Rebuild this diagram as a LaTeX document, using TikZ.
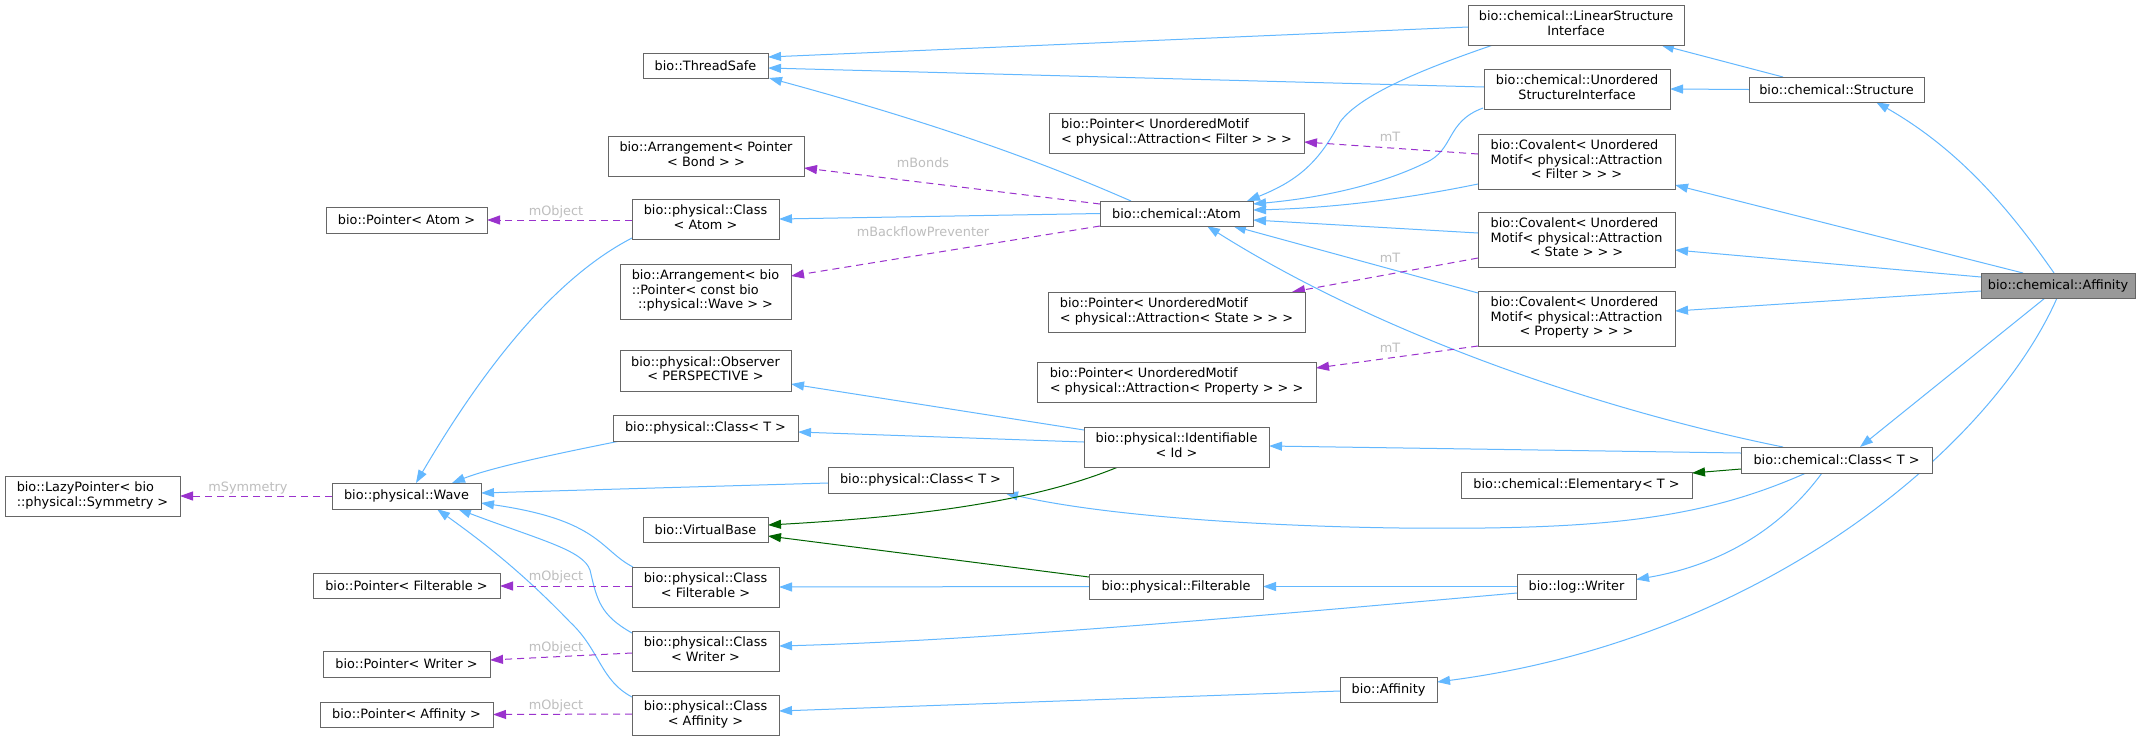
\documentclass[tikz,border=0pt]{standalone}
\usepackage{fontspec}
\setmainfont{DejaVu Sans}
\usetikzlibrary{arrows.meta,calc}
\definecolor{boxc}{HTML}{666666}
\definecolor{steel}{HTML}{63B8FF}
\definecolor{dgreen}{HTML}{006400}
\definecolor{orchid}{HTML}{9A32CD}
\definecolor{lblc}{HTML}{BEBEBE}
\definecolor{greysixty}{HTML}{999999}
\newcommand{\nodefont}{\fontsize{12.85pt}{14.5pt}\selectfont}
\newcommand{\LL}[2]{\begin{tabular}{@{}l@{}}#1\\\multicolumn{1}{@{}c@{}}{#2}\end{tabular}}
\newcommand{\LLL}[3]{\begin{tabular}{@{}l@{}}#1\\#2\\\multicolumn{1}{@{}c@{}}{#3}\end{tabular}}
\pgfdeclarelayer{bg}
\pgfsetlayers{bg,main}
\tikzset{
  box/.style={draw=boxc, fill=white, line width=1pt, inner sep=0pt, outer sep=0pt, font=\nodefont, text=black},
  dim/.style 2 args={minimum width=#1pt, minimum height=#2pt},
  tip/.style={-{Triangle[length=13pt,width=9pt]}},
  inh/.style={draw=steel, line width=1pt, tip},
  gre/.style={draw=dgreen, line width=1pt, tip},
  usage/.style={draw=orchid, line width=1pt, dash pattern=on 7pt off 5pt, tip},
  lbl/.style={font=\nodefont, text=lblc, inner sep=0pt}
}
\begin{document}
\begin{tikzpicture}[x=1pt,y=-1pt]
\useasboundingbox (0,0) rectangle (2151,740);
% nodes
\node[box,dim={125}{25}] (threadsafe) at (705.5,65.5) {bio::ThreadSafe};
\node[box,dim={216}{40}] (lsi) at (1576,25) {\LL{bio::chemical::LinearStructure}{Interface}};
\node[box,dim={186}{40}] (usi) at (1577,89) {\LL{bio::chemical::Unordered}{StructureInterface}};
\node[box,dim={175}{25}] (structure) at (1836.5,89.5) {bio::chemical::Structure};
\node[box,dim={197}{55}] (covF) at (1576.5,161.5) {\LLL{bio::Covalent< Unordered}{Motif< physical::Attraction}{< Filter > > >}};
\node[box,dim={197}{55}] (covS) at (1576.5,239.5) {\LLL{bio::Covalent< Unordered}{Motif< physical::Attraction}{< State > > >}};
\node[box,dim={197}{55}] (covP) at (1576.5,318.5) {\LLL{bio::Covalent< Unordered}{Motif< physical::Attraction}{< Property > > >}};
\node[box,fill=greysixty,dim={154}{25}] (affc) at (2058,285.5) {bio::chemical::Affinity};
\node[box,dim={255}{40}] (ptrUMF) at (1176.5,133) {\LL{bio::Pointer< UnorderedMotif}{< physical::Attraction< Filter > > >}};
\node[box,dim={153}{25}] (atom) at (1176.5,213.5) {bio::chemical::Atom};
\node[box,dim={257}{40}] (ptrUMS) at (1176.5,312) {\LL{bio::Pointer< UnorderedMotif}{< physical::Attraction< State > > >}};
\node[box,dim={279}{40}] (ptrUMP) at (1176.5,382) {\LL{bio::Pointer< UnorderedMotif}{< physical::Attraction< Property > > >}};
\node[box,dim={196}{40}] (arrBond) at (706,156) {\LL{bio::Arrangement< Pointer}{< Bond > >}};
\node[box,dim={147}{40}] (classAtom) at (705.5,219) {\LL{bio::physical::Class}{< Atom >}};
\node[box,dim={171}{55}] (arrWave) at (705.5,291.5) {\LLL{bio::Arrangement< bio}{::Pointer< const bio}{::physical::Wave > >}};
\node[box,dim={171}{41}] (observer) at (705.5,370.5) {\LL{bio::physical::Observer}{< PERSPECTIVE >}};
\node[box,dim={185}{26}] (classTup) at (705.5,428) {bio::physical::Class< T >};
\node[box,dim={125}{25}] (virtualbase) at (705.5,529.5) {bio::VirtualBase};
\node[box,dim={147}{40}] (classFilt) at (705.5,587) {\LL{bio::physical::Class}{< Filterable >}};
\node[box,dim={147}{40}] (classWriter) at (705.5,651) {\LL{bio::physical::Class}{< Writer >}};
\node[box,dim={147}{40}] (classAff) at (705.5,715) {\LL{bio::physical::Class}{< Affinity >}};
\node[box,dim={161}{26}] (ptrAtom) at (406.5,220) {bio::Pointer< Atom >};
\node[box,dim={149}{26}] (wave) at (406.5,496) {bio::physical::Wave};
\node[box,dim={187}{25}] (ptrFilt) at (406.5,585.5) {bio::Pointer< Filterable >};
\node[box,dim={167}{26}] (ptrWriter) at (406.5,664) {bio::Pointer< Writer >};
\node[box,dim={173}{25}] (ptrAff) at (406.5,714.5) {bio::Pointer< Affinity >};
\node[box,dim={175}{40}] (lazy) at (92.5,496) {\LL{bio::LazyPointer< bio}{::physical::Symmetry >}};
\node[box,dim={185}{40}] (ident) at (1176.5,447) {\LL{bio::physical::Identifiable}{< Id >}};
\node[box,dim={185}{26}] (classTlow) at (920.5,480) {bio::physical::Class< T >};
\node[box,dim={174}{25}] (filterable) at (1176,586.5) {bio::physical::Filterable};
\node[box,dim={97}{25}] (affb) at (1388.5,689.5) {bio::Affinity};
\node[box,dim={191}{26}] (chemClass) at (1836.5,460) {bio::chemical::Class< T >};
\node[box,dim={231}{26}] (elementary) at (1576.5,485) {bio::chemical::Elementary< T >};
\node[box,dim={119}{25}] (logWriter) at (1576.5,586.5) {bio::log::Writer};
% labels
\node[lbl] (lbBonds) at (923,163) {mBonds};
\node[lbl] (lbBack) at (923,232) {mBackflowPreventer};
\node[lbl] (lbObjAtom) at (556,212) {mObject};
\node[lbl] (lbTF) at (1390,137) {mT};
\node[lbl] (lbTS) at (1390,258) {mT};
\node[lbl] (lbTP) at (1390,348) {mT};
\node[lbl] (lbSym) at (248,488) {mSymmetry};
\node[lbl] (lbObjF) at (556,577) {mObject};
\node[lbl] (lbObjW) at (556,648) {mObject};
\node[lbl] (lbObjA) at (556,706) {mObject};
\begin{pgfonlayer}{bg}
\fill[white] (0,0) rectangle (2151,740);
% inheritance (blue)
\draw[inh] ($(lsi.west)+(0,2)$) -- ($(threadsafe.east)+(0,-8.5)$);
\draw[inh] ($(usi.west)+(0,-2)$) -- ($(threadsafe.east)+(0,2.5)$);
\draw[inh] ($(atom.north)+(-45.5,0)$) .. controls (1060,170) and (960,130) .. ($(threadsafe.south east)+(1,0)$);
\draw[inh] (atom.west) -- (classAtom.east);
\draw[inh] ($(lsi.south west)+(25,0)$) .. controls (1420,70) and (1360,95) .. (1340,122) .. controls (1320,160) and (1300,180) .. ($(atom.north east)+(-6,0)$);
\draw[inh] ($(usi.south west)+(-1,-1)$) .. controls (1445,122) and (1455,150) .. (1425,163) .. controls (1380,185) and (1320,198) .. ($(atom.east)+(0,-9.5)$);
\draw[inh] ($(covF.west)+(0,22.5)$) .. controls (1400,200) and (1330,208) .. ($(atom.east)+(0,-3.5)$);
\draw[inh] ($(covS.west)+(0,-6.5)$) -- ($(atom.east)+(0,6.5)$);
\draw[inh] ($(covP.north west)+(0,2)$) -- ($(atom.south east)+(-20,0)$);
\draw[inh] ($(chemClass.north west)+(42,0)$) .. controls (1600,410) and (1380,335) .. ($(atom.south)+(30.5,0)$);
\draw[inh] ($(structure.north west)+(34,0)$) -- ($(lsi.south east)+(-23,0)$);
\draw[inh] (structure.west) -- (usi.east);
\draw[inh] ($(affc.north)+(-4,0)$) .. controls (2010,210) and (1960,150) .. ($(structure.south)+(39.5,0)$);
\draw[inh] ($(affc.north west)+(42,0)$) -- ($(covF.east)+(0,23.5)$);
\draw[inh] ($(affc.west)+(0,-8.5)$) -- ($(covS.east)+(0,10.5)$);
\draw[inh] ($(affc.west)+(0,5.5)$) -- ($(covP.east)+(0,-7.5)$);
\draw[inh] ($(affc.south)+(-13,0)$) -- ($(chemClass.north)+(23.5,0)$);
\draw[inh] ($(affc.south)+(-1,0)$) .. controls (1990,450) and (1760,640) .. ($(affb.east)+(0,-7.5)$);
\draw[inh] ($(classAtom.south west)+(0,-1)$) .. controls (570,270) and (500,340) .. ($(wave.north)+(9.5,0)$);
\draw[inh] ($(classTup.south west)+(7,0)$) .. controls (550,455) and (490,468) .. ($(wave.north)+(45.5,0)$);
\draw[inh] ($(classTlow.west)+(0,3)$) -- ($(wave.east)+(0,-3)$);
\draw[inh] ($(classFilt.north west)+(1,0)$) .. controls (600,550) and (600,520) .. ($(wave.east)+(0,7)$);
\draw[inh] ($(classWriter.north west)+(0,2)$) .. controls (600,615) and (597,600) .. (590,570) .. controls (583,550) and (540,540) .. ($(wave.south)+(51.5,0)$);
\draw[inh] ($(classAff.north west)+(0,2)$) .. controls (600,680) and (600,650) .. (570,622) .. controls (520,570) and (480,540) .. ($(wave.south)+(30.5,0)$);
\draw[inh] ($(ident.north west)+(0,3)$) -- ($(observer.east)+(0,13.5)$);
\draw[inh] ($(ident.west)+(0,-5)$) -- ($(classTup.east)+(0,4)$);
\draw[inh] ($(chemClass.west)+(0,-7)$) -- ($(ident.east)+(0,-1)$);
\draw[inh] ($(chemClass.south west)+(65,0)$) .. controls (1700,520) and (1600,530) .. (1400,528) .. controls (1250,526) and (1100,515) .. ($(classTlow.south east)+(-8,0)$);
\draw[inh] ($(chemClass.south west)+(81,0)$) .. controls (1780,530) and (1720,565) .. ($(logWriter.east)+(0,-7)$);
\draw[inh] (filterable.west) -- (classFilt.east);
\draw[inh] (logWriter.west) -- (filterable.east);
\draw[inh] ($(logWriter.west)+(0,6.5)$) .. controls (1300,612) and (1000,640) .. ($(classWriter.east)+(0,-5)$);
\draw[inh] ($(affb.west)+(0,1.5)$) -- ($(classAff.east)+(0,-4)$);
% virtual / protected (green)
\draw[gre] ($(ident.south west)+(34,0)$) .. controls (1050,495) and (950,515) .. ($(virtualbase.east)+(0,-4.5)$);
\draw[gre] ($(filterable.north west)+(0,3)$) -- ($(virtualbase.east)+(0,6.5)$);
\draw[gre] ($(chemClass.west)+(0,9)$) -- ($(elementary.east)+(0,-12)$);
% usage (purple dashed)
\draw[usage] ($(atom.west)+(0,-9.5)$) -- ($(arrBond.east)+(0,12)$);
\draw[usage] (atom.south west) -- ($(arrWave.east)+(0,-15.5)$);
\draw[usage] ($(classAtom.west)+(0,1)$) -- (ptrAtom.east);
\draw[usage] ($(covF.west)+(0,-7.5)$) -- ($(ptrUMF.east)+(0,9)$);
\draw[usage] ($(covS.west)+(0,18.5)$) -- ($(ptrUMS.north east)+(-13,0)$);
\draw[usage] (covP.south west) -- ($(ptrUMP.east)+(0,-14)$);
\draw[usage] (wave.west) -- (lazy.east);
\draw[usage] ($(classFilt.west)+(0,-1)$) -- ($(ptrFilt.east)+(0,0.5)$);
\draw[usage] ($(classWriter.west)+(0,2)$) -- ($(ptrWriter.east)+(0,-4)$);
\draw[usage] ($(classAff.west)+(0,-1)$) -- (ptrAff.east);
\end{pgfonlayer}
\end{tikzpicture}
\end{document}
